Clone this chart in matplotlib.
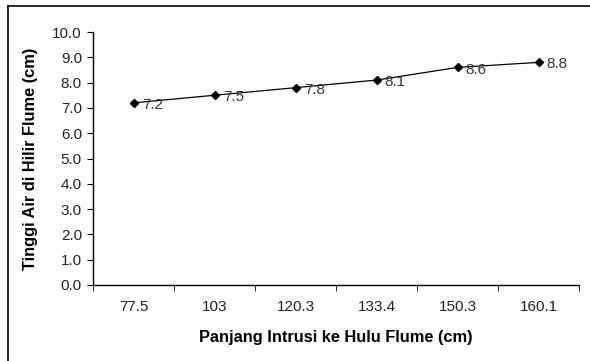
import matplotlib
matplotlib.use("Agg")
import matplotlib.pyplot as plt
from matplotlib.lines import Line2D

categories = ["77.5", "103", "120.3", "133.4", "150.3", "160.1"]
values = [7.2, 7.5, 7.8, 8.1, 8.6, 8.8]
yticks = [0, 1, 2, 3, 4, 5, 6, 7, 8, 9, 10]

plt.rcParams['font.family'] = ['Liberation Sans', 'DejaVu Sans']

fig = plt.figure(figsize=(5.9, 3.61), dpi=100)
ax = fig.add_axes([93/590, 1-285/361, (579-93)/590, (285-32)/361])

x = list(range(len(categories)))
ax.plot(x, values, color='black', lw=0.9, marker='D', markersize=3.8, mfc='black', mec='black')
for xi, v in zip(x, values):
    ax.annotate(f"{v:.1f}", (xi, v), xytext=(6, -1.5), textcoords='offset points',
                ha='left', va='center', fontsize=11, color='#333333')

ax.set_xlim(-0.5, len(categories) - 0.5)
ax.set_ylim(0, 10)
ax.set_yticks(yticks)
ax.set_yticklabels([f"{t:.1f}" for t in yticks])
ax.set_xticks(x)
ax.set_xticklabels(categories)
ax.set_xticks([i - 0.5 for i in range(len(categories) + 1)], minor=True)
ax.tick_params(axis='x', which='major', length=0, pad=11, labelsize=11, labelcolor='#222222')
ax.tick_params(axis='x', which='minor', length=4, direction='out', color='black')
ax.tick_params(axis='y', length=4, direction='out', labelsize=11, labelcolor='#222222', pad=4)

for s in ['top', 'right']:
    ax.spines[s].set_visible(False)
for s in ['left', 'bottom']:
    ax.spines[s].set_color('black')
    ax.spines[s].set_linewidth(1.0)

ax.set_xlabel("Panjang Intrusi ke Hulu Flume (cm)", fontsize=11.8, fontweight='bold', labelpad=11)
ax.set_ylabel("Tinggi Air di Hilir Flume (cm)", fontsize=11.8, fontweight='bold', labelpad=10)

# outer frame (top and left edges visible)
fig.add_artist(Line2D([8/590, 8/590], [0, 1-6/361], color='black', lw=1.2, transform=fig.transFigure))
fig.add_artist(Line2D([8/590, 1], [1-6/361, 1-6/361], color='black', lw=1.2, transform=fig.transFigure))

fig.savefig("out.png", dpi=100)
